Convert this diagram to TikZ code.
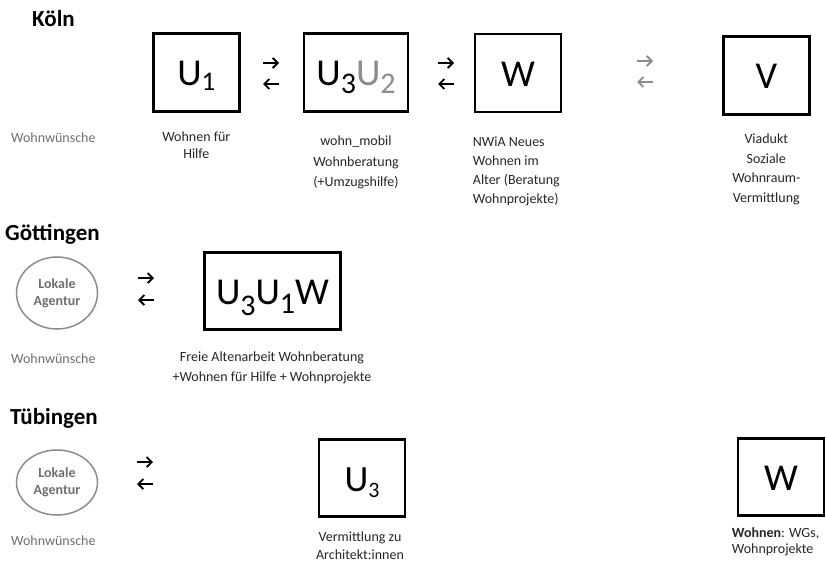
\documentclass[tikz,border=0pt]{standalone}
\usepackage{fontspec}
\setmainfont{Carlito}
\usetikzlibrary{shapes.geometric,arrows.meta}
\definecolor{txtgray}{HTML}{6E6E6E}
\definecolor{ugray}{HTML}{8C8C8C}
\definecolor{txtdark}{HTML}{262626}
\newcommand{\lowdigit}[3]{\raisebox{-#2pt}{\fontsize{#1}{#1}\selectfont #3}}
\tikzset{
  ort/.style={anchor=base west, inner sep=0pt, font=\fontsize{23}{23}\selectfont\bfseries},
  einheit/.style={draw, line width=2.6pt, inner sep=0pt, text height=26pt, text depth=0pt,
    font=\fontsize{38}{38}\selectfont, minimum width=86pt, minimum height=78pt},
  beschr/.style={anchor=north, inner sep=0pt, align=center, text=txtdark},
  wunsch/.style={anchor=base west, inner sep=0pt, text=txtgray, font=\fontsize{14}{14}\selectfont},
  agentur/.style={ellipse, draw=ugray, line width=1.5pt, minimum width=81pt, minimum height=72pt,
    align=center, text=txtgray, font=\fontsize{14}{17}\selectfont\bfseries, inner sep=0pt},
  pfeil/.style={-{Straight Barb[length=5pt,width=10pt]}, line width=1.8pt},
}
\begin{document}
\begin{tikzpicture}[x=1pt,y=-1pt]
\useasboundingbox (0,0) rectangle (826,563);
% Koeln
\node[ort] (koeln) at (32,26) {Köln};
\node[einheit] (u1) at (196.3,72.5) {U\lowdigit{27}{5}{1}};
\node[einheit, minimum width=104pt] (u32) at (356,72.5) {U\lowdigit{30}{8}{3}\textcolor{ugray}{U\lowdigit{30}{8}{2}}};
\node[einheit] (wk) at (518,73) {W};
\node[einheit] (v) at (766.3,75.3) {V};
\node[wunsch] (wunschk) at (11,142) {Wohnwünsche};
\node[beschr, font=\fontsize{14}{16.5}\selectfont] (u1txt) at (196.3,132) {Wohnen für\\Hilfe};
\node[beschr, font=\fontsize{14}{20.5}\selectfont] (u32txt) at (356,136) {wohn\_mobil\\Wohnberatung\\(+Umzugshilfe)};
\node[beschr, anchor=north west, align=left, font=\fontsize{14}{19}\selectfont] (wktxt) at (472.7,136.5) {NWiA Neues\\Wohnen im\\Alter (Beratung\\Wohnprojekte)};
\node[beschr, font=\fontsize{14}{19.5}\selectfont] (vtxt) at (766.3,134) {Viadukt\\Soziale\\Wohnraum-\\Vermittlung};
% Goettingen
\node[ort] (goett) at (5,240.5) {Göttingen};
\node[agentur] (ag) at (57,293) {Lokale\\Agentur};
\node[einheit, minimum width=136pt, minimum height=77pt] (u31w) at (272.5,291) {U\lowdigit{30}{11}{3}U\lowdigit{30}{9}{1}W};
\node[wunsch] (wunschg) at (11,363) {Wohnwünsche};
\node[beschr, font=\fontsize{14}{19.5}\selectfont] (u31wtxt) at (272,352) {Freie Altenarbeit Wohnberatung\\+Wohnen für Hilfe + Wohnprojekte};
% Tuebingen
\node[ort] (tueb) at (10,424) {Tübingen};
\node[agentur, minimum height=65pt] (at) at (57,482.5) {Lokale\\Agentur};
\node[einheit, minimum height=77pt, font=\fontsize{37}{37}\selectfont] (u3) at (362,478) {U\lowdigit{22}{6}{3}};
\node[einheit, minimum height=77pt] (wt) at (781,477) {W};
\node[wunsch] (wunscht) at (11,545) {Wohnwünsche};
\node[beschr, font=\fontsize{14}{18}\selectfont] (u3txt) at (360,532) {Vermittlung zu\\Architekt:innen};
\node[beschr, anchor=north west, align=left, font=\fontsize{14}{16.5}\selectfont] (wttxt) at (731.7,527) {\textbf{Wohnen}: WGs,\\Wohnprojekte};
% Pfeile
\foreach \xa/\ya/\yb/\farbe in {263/63/84/black, 438/63/84/black, 637/61/82/ugray, 138/278/300/black, 137/462/484/black}
{
  \draw[pfeil,\farbe] (\xa,\ya) -- ++(16,0);
  \draw[pfeil,\farbe] (\xa+16,\yb) -- ++(-16,0);
}
\end{tikzpicture}
\end{document}
